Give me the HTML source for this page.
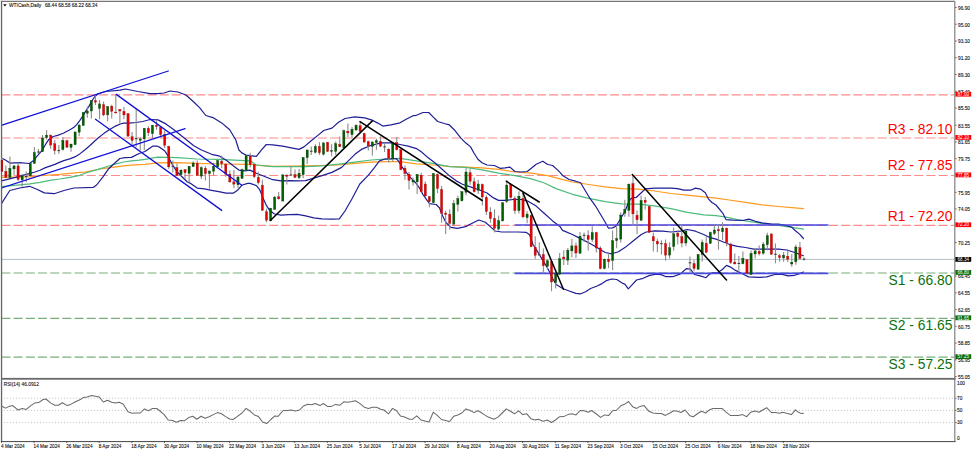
<!DOCTYPE html><html><head><meta charset="utf-8"><style>html,body{margin:0;padding:0;background:#fff;width:975px;height:452px;overflow:hidden}svg{display:block}text{font-family:"Liberation Sans",sans-serif}</style></head><body>
<svg width="975" height="452" viewBox="0 0 975 452">
<rect x="0" y="0" width="975" height="452" fill="#fff"/>
<rect x="0" y="0" width="955" height="1" fill="#ebebeb"/>
<rect x="0" y="0" width="1" height="442" fill="#ebebeb"/>
<defs><clipPath id="cm"><rect x="1.5" y="2" width="953" height="376"/></clipPath><clipPath id="cr"><rect x="2" y="380" width="952.5" height="61"/></clipPath></defs>
<g clip-path="url(#cm)">
<line x1="1.5" y1="94.8" x2="954.5" y2="94.8" stroke="#ff8a8a" stroke-width="1.2" stroke-dasharray="9 3.17"/>
<line x1="1.5" y1="138.0" x2="954.5" y2="138.0" stroke="#ff8a8a" stroke-width="1.2" stroke-dasharray="9 3.17"/>
<line x1="1.5" y1="175.5" x2="954.5" y2="175.5" stroke="#ff8a8a" stroke-width="1.2" stroke-dasharray="9 3.17"/>
<line x1="1.5" y1="225.3" x2="954.5" y2="225.3" stroke="#ff8a8a" stroke-width="1.2" stroke-dasharray="9 3.17"/>
<line x1="1.5" y1="273.0" x2="954.5" y2="273.0" stroke="#78b078" stroke-width="1.2" stroke-dasharray="9 3.17"/>
<line x1="1.5" y1="318.4" x2="954.5" y2="318.4" stroke="#78b078" stroke-width="1.2" stroke-dasharray="9 3.17"/>
<line x1="1.5" y1="357.2" x2="954.5" y2="357.2" stroke="#78b078" stroke-width="1.2" stroke-dasharray="9 3.17"/>
<line x1="2" y1="259.4" x2="954.5" y2="259.4" stroke="#b4bec8" stroke-width="1"/>
<polyline points="0.0,177.5 1.5,177.4 30.0,176.8 40.0,175.6 49.9,175.0 59.9,174.3 69.8,173.3 79.8,172.3 85.0,172.1 92.7,170.5 100.5,169.0 108.2,167.8 116.0,166.9 123.7,165.9 131.4,165.1 139.2,164.6 145.0,164.3 157.5,162.9 177.2,162.6 196.9,163.4 218.8,164.0 250.0,164.4 256.4,165.2 272.8,166.3 289.2,166.1 305.6,165.8 322.0,165.5 338.5,165.0 354.9,163.3 371.3,162.2 387.7,161.7 400.0,161.7 416.4,163.8 432.8,165.0 449.2,166.3 465.6,167.1 482.0,167.8 498.5,169.4 514.9,172.0 531.3,173.2 547.7,175.6 560.0,178.9 572.4,182.0 588.8,184.5 605.2,186.9 621.6,188.6 638.0,189.1 654.5,191.0 670.9,193.5 687.3,195.1 703.7,196.8 716.0,198.1 729.2,200.0 745.6,202.4 762.0,204.9 778.5,206.5 794.9,207.8 803.4,208.6" fill="none" stroke="#ff9a1e" stroke-width="1.2" stroke-linejoin="round" stroke-linecap="round"/>
<polyline points="0.0,186.8 1.5,186.7 30.0,183.8 40.0,182.3 49.9,180.3 59.9,179.0 69.8,177.3 79.8,175.3 85.0,173.2 92.7,170.9 100.5,168.6 108.2,166.3 116.0,163.9 123.7,162.0 131.4,160.8 139.2,160.1 145.0,159.3 157.5,157.2 177.2,157.7 196.9,159.0 218.8,159.4 250.0,160.8 256.4,165.0 272.8,166.6 289.2,166.6 305.6,166.6 322.0,165.8 338.5,164.2 354.9,162.2 371.3,160.0 387.7,158.9 400.0,158.4 416.4,160.9 432.8,163.3 449.2,166.6 465.6,167.4 482.0,169.9 498.5,173.2 514.9,175.6 531.3,178.9 544.4,183.0 556.0,188.6 572.4,194.3 588.8,198.4 605.2,201.7 621.6,203.8 638.0,204.2 654.5,205.8 670.9,208.7 687.3,212.4 703.7,214.8 716.0,215.6 726.0,217.2 737.4,219.6 748.9,221.3 762.0,223.4 778.5,225.4 794.9,227.8 803.4,229.2" fill="none" stroke="#4cbb7c" stroke-width="1.2" stroke-linejoin="round" stroke-linecap="round"/>
<polyline points="0.0,157.5 5.4,160.0 10.0,163.1 19.4,162.7 29.4,163.5 32.5,161.2 34.8,160.0 36.0,157.4 41.7,150.9 46.0,143.7 48.9,139.4 53.2,136.5 57.6,135.4 63.3,133.2 66.0,131.8 70.0,129.8 74.0,127.3 76.9,124.3 79.9,120.3 82.9,115.9 85.9,110.9 88.9,106.4 91.9,100.9 94.9,96.5 97.8,94.0 101.8,92.5 106.0,91.5 120.0,90.2 125.5,89.0 137.8,91.5 150.0,93.6 158.0,93.6 164.0,93.0 170.0,91.0 177.9,92.0 185.9,95.0 193.8,102.0 199.8,107.9 205.8,115.5 213.7,117.9 221.7,122.9 229.7,129.8 235.7,139.8 238.9,150.0 241.8,152.9 246.1,155.0 250.0,155.7 256.4,156.4 261.3,150.2 266.3,144.5 272.8,144.8 282.7,146.1 292.5,148.1 299.1,149.4 304.0,146.9 310.6,141.2 318.8,134.6 323.7,130.5 331.9,128.1 338.5,122.3 345.0,118.5 354.9,116.9 364.7,117.9 371.3,119.8 377.8,123.1 382.8,126.1 391.0,124.8 400.0,122.8 406.6,119.0 413.1,115.7 416.4,115.3 423.0,112.5 428.7,112.5 432.8,116.6 437.7,121.5 444.3,123.5 449.2,124.8 454.2,129.7 460.7,137.9 465.6,142.8 470.6,146.9 473.8,152.7 477.9,159.2 482.0,162.8 487.0,165.0 494.4,165.5 500.1,168.3 505.0,167.8 510.0,167.1 514.9,171.5 521.4,172.0 527.2,171.5 531.3,168.3 536.2,164.2 542.8,161.2 547.7,164.5 552.6,165.5 557.5,169.9 560.0,172.4 562.6,175.4 569.1,179.5 575.7,181.2 580.6,182.8 585.5,191.0 590.5,199.2 595.4,205.8 600.3,214.0 605.2,222.2 608.5,228.2 612.6,227.9 615.9,226.3 620.0,219.7 624.9,211.5 628.2,203.3 630.5,199.0 633.1,197.6 636.4,197.3 641.3,192.7 645.4,188.9 654.5,188.1 670.9,188.1 677.4,188.6 684.0,190.2 690.6,190.2 695.5,188.1 700.4,189.1 705.3,192.7 708.6,199.2 711.9,202.5 716.0,205.0 722.7,213.1 726.0,219.6 732.5,220.1 742.4,220.5 748.9,219.1 755.5,221.3 762.0,222.9 771.9,224.1 778.5,224.1 785.0,225.4 791.6,227.0 794.9,230.3 799.8,234.4 803.4,238.5" fill="none" stroke="#1e1e96" stroke-width="1.2" stroke-linejoin="round" stroke-linecap="round"/>
<polyline points="0.0,181.3 1.5,180.9 15.5,177.4 30.0,173.3 35.0,172.0 40.0,170.3 44.9,167.9 49.9,166.1 54.9,164.4 59.9,162.1 63.8,160.6 69.8,158.9 74.8,156.9 79.8,153.9 84.7,150.0 90.0,145.5 92.6,143.0 98.1,138.0 103.7,133.6 109.2,129.7 114.8,126.4 120.3,124.0 123.6,123.1 129.2,123.1 136.0,122.5 142.8,121.5 150.0,119.5 158.0,119.9 165.9,123.9 173.9,129.8 183.9,137.8 193.8,145.8 201.5,150.0 211.6,154.3 218.8,155.8 226.0,160.0 233.2,165.8 238.9,170.1 244.7,170.9 250.0,170.1 256.4,173.2 264.6,176.5 272.8,179.7 281.0,180.9 289.2,180.6 297.4,180.9 305.6,180.6 313.8,178.1 322.0,175.6 331.9,172.4 341.7,167.4 348.3,160.9 354.9,154.3 361.4,149.4 371.3,145.3 381.1,142.8 391.0,142.8 400.0,144.5 408.2,146.1 416.4,148.6 421.3,151.8 427.9,157.6 434.5,162.5 441.0,168.3 449.2,175.6 455.8,180.6 462.4,184.2 468.9,186.4 478.8,189.7 487.0,193.0 493.5,197.9 498.5,200.4 505.0,200.4 513.2,199.5 521.4,199.5 528.0,201.2 536.2,206.1 544.4,213.5 552.6,220.9 560.0,226.6 562.6,230.4 572.4,234.5 580.6,238.6 588.8,242.7 597.0,247.6 605.2,252.5 611.8,253.8 618.4,251.7 624.9,247.6 633.1,241.0 641.3,234.5 646.3,232.0 654.5,230.9 662.7,231.2 670.9,232.0 680.7,231.2 687.3,229.5 695.5,231.2 703.7,234.5 710.2,237.7 716.0,239.1 721.0,241.0 729.2,244.3 737.4,246.4 745.6,247.5 753.8,249.2 762.0,249.2 770.3,249.2 778.5,249.2 786.7,250.0 794.9,252.5 803.4,255.7" fill="none" stroke="#1e1e96" stroke-width="1.2" stroke-linejoin="round" stroke-linecap="round"/>
<polyline points="0.0,206.0 9.8,190.5 19.7,188.0 29.5,186.3 36.9,189.2 44.3,192.9 54.2,193.7 64.0,190.5 73.8,188.0 93.5,187.3 96.6,185.0 102.8,177.1 108.2,169.3 112.1,165.5 119.8,158.5 125.2,157.7 131.4,157.4 139.2,153.5 145.0,151.5 152.6,146.2 157.5,146.2 160.0,147.4 164.9,151.1 167.4,154.8 172.3,164.6 177.2,172.0 187.1,181.8 190.0,183.1 197.2,188.1 204.4,188.8 211.6,190.3 218.8,191.7 226.0,193.2 233.2,193.2 237.5,190.3 241.8,185.3 247.6,183.4 250.0,183.4 256.4,185.6 259.7,189.7 263.0,197.9 266.3,205.3 269.5,210.2 274.5,214.0 281.0,215.1 289.2,214.6 297.4,214.3 305.6,215.9 313.8,217.9 322.0,218.9 331.9,219.2 339.3,218.9 345.0,211.0 351.6,199.5 359.8,184.0 368.0,175.6 374.6,167.4 379.5,160.9 384.4,159.2 391.0,159.0 395.9,158.5 398.6,161.2 401.2,165.8 405.2,171.1 410.5,177.7 415.8,183.0 419.8,188.4 423.0,194.6 429.5,203.6 436.1,204.5 439.4,207.7 442.7,216.0 445.9,222.5 450.9,227.4 457.4,228.3 465.6,226.6 472.2,223.3 478.8,220.0 485.3,222.2 490.3,226.6 495.2,231.0 501.7,232.0 511.6,232.0 518.1,232.0 526.4,232.4 529.6,234.8 532.9,244.2 538.0,252.4 543.0,260.6 547.9,268.8 552.8,278.7 556.1,284.4 562.7,288.5 569.2,291.0 575.8,293.4 580.7,293.8 585.6,291.8 590.6,288.5 597.1,286.0 602.0,283.6 607.0,280.3 611.9,279.0 616.8,279.5 621.7,282.8 625.0,284.4 628.3,288.8 633.2,283.6 636.5,280.0 643.1,278.3 649.6,275.4 656.2,274.1 661.1,274.6 666.0,276.7 672.6,276.7 680.0,274.1 686.3,268.7 690.4,269.2 694.5,274.5 701.0,276.1 706.0,277.7 709.2,274.5 712.5,272.8 717.4,272.8 722.4,269.5 726.5,265.4 730.6,267.1 735.5,270.4 740.4,272.8 745.3,275.3 748.6,276.9 758.5,277.4 766.7,276.9 774.9,274.5 781.4,274.1 788.0,275.8 794.6,275.3 799.5,273.6 803.6,272.0" fill="none" stroke="#1e1e96" stroke-width="1.2" stroke-linejoin="round" stroke-linecap="round"/>
<line x1="514.7" y1="225.0" x2="828.5" y2="225.0" stroke="#4a4ae2" stroke-width="1.7"/>
<line x1="514.7" y1="273.3" x2="828.5" y2="273.3" stroke="#4a4ae2" stroke-width="1.7"/>
<line x1="1.80" y1="158.0" x2="1.80" y2="172.0" stroke="#8c8c8c" stroke-width="1.1"/>
<rect x="0.70" y="160.4" width="2.2" height="11.0" fill="#e80000" stroke="#900000" stroke-width="0.3"/>
<line x1="5.87" y1="165.4" x2="5.87" y2="177.9" stroke="#8c8c8c" stroke-width="1.1"/>
<rect x="4.77" y="171.4" width="2.2" height="6.0" fill="#e80000" stroke="#900000" stroke-width="0.3"/>
<line x1="9.94" y1="156.5" x2="9.94" y2="177.9" stroke="#8c8c8c" stroke-width="1.1"/>
<rect x="8.84" y="168.4" width="2.2" height="9.0" fill="#006000" stroke="#003000" stroke-width="0.3"/>
<line x1="14.02" y1="164.9" x2="14.02" y2="174.9" stroke="#8c8c8c" stroke-width="1.1"/>
<rect x="12.92" y="165.9" width="2.2" height="3.0" fill="#006000" stroke="#003000" stroke-width="0.3"/>
<line x1="18.09" y1="162.0" x2="18.09" y2="180.9" stroke="#8c8c8c" stroke-width="1.1"/>
<rect x="16.99" y="165.9" width="2.2" height="13.5" fill="#e80000" stroke="#900000" stroke-width="0.3"/>
<line x1="22.16" y1="173.9" x2="22.16" y2="186.8" stroke="#8c8c8c" stroke-width="1.1"/>
<rect x="21.06" y="175.9" width="2.2" height="4.0" fill="#006000" stroke="#003000" stroke-width="0.3"/>
<line x1="26.23" y1="171.4" x2="26.23" y2="181.9" stroke="#8c8c8c" stroke-width="1.1"/>
<rect x="24.93" y="176.0" width="2.6" height="1" fill="#333"/>
<line x1="30.30" y1="163.4" x2="30.30" y2="176.4" stroke="#8c8c8c" stroke-width="1.1"/>
<rect x="29.20" y="163.4" width="2.2" height="12.5" fill="#006000" stroke="#003000" stroke-width="0.3"/>
<line x1="34.38" y1="147.0" x2="34.38" y2="164.0" stroke="#8c8c8c" stroke-width="1.1"/>
<rect x="33.28" y="152.5" width="2.2" height="10.9" fill="#006000" stroke="#003000" stroke-width="0.3"/>
<line x1="38.45" y1="149.0" x2="38.45" y2="154.0" stroke="#8c8c8c" stroke-width="1.1"/>
<rect x="37.15" y="151.5" width="2.6" height="1" fill="#333"/>
<line x1="42.52" y1="135.0" x2="42.52" y2="151.9" stroke="#8c8c8c" stroke-width="1.1"/>
<rect x="41.42" y="138.0" width="2.2" height="13.6" fill="#006000" stroke="#003000" stroke-width="0.3"/>
<line x1="46.59" y1="130.0" x2="46.59" y2="139.4" stroke="#8c8c8c" stroke-width="1.1"/>
<rect x="45.49" y="135.1" width="2.2" height="2.6" fill="#006000" stroke="#003000" stroke-width="0.3"/>
<line x1="50.66" y1="134.4" x2="50.66" y2="148.7" stroke="#8c8c8c" stroke-width="1.1"/>
<rect x="49.56" y="135.1" width="2.2" height="10.0" fill="#e80000" stroke="#900000" stroke-width="0.3"/>
<line x1="54.74" y1="140.1" x2="54.74" y2="154.5" stroke="#8c8c8c" stroke-width="1.1"/>
<rect x="53.64" y="143.7" width="2.2" height="6.9" fill="#e80000" stroke="#900000" stroke-width="0.3"/>
<line x1="58.81" y1="145.1" x2="58.81" y2="153.8" stroke="#8c8c8c" stroke-width="1.1"/>
<rect x="57.51" y="150.1" width="2.6" height="1" fill="#333"/>
<line x1="62.88" y1="136.9" x2="62.88" y2="150.6" stroke="#8c8c8c" stroke-width="1.1"/>
<rect x="61.78" y="140.4" width="2.2" height="9.1" fill="#006000" stroke="#003000" stroke-width="0.3"/>
<line x1="66.95" y1="139.7" x2="66.95" y2="148.0" stroke="#8c8c8c" stroke-width="1.1"/>
<rect x="65.85" y="140.7" width="2.2" height="6.5" fill="#e80000" stroke="#900000" stroke-width="0.3"/>
<line x1="71.02" y1="144.0" x2="71.02" y2="151.7" stroke="#8c8c8c" stroke-width="1.1"/>
<rect x="69.92" y="144.0" width="2.2" height="3.5" fill="#006000" stroke="#003000" stroke-width="0.3"/>
<line x1="75.10" y1="131.9" x2="75.10" y2="144.7" stroke="#8c8c8c" stroke-width="1.1"/>
<rect x="74.00" y="131.9" width="2.2" height="12.8" fill="#006000" stroke="#003000" stroke-width="0.3"/>
<line x1="79.17" y1="124.1" x2="79.17" y2="136.2" stroke="#8c8c8c" stroke-width="1.1"/>
<rect x="78.07" y="125.1" width="2.2" height="7.1" fill="#006000" stroke="#003000" stroke-width="0.3"/>
<line x1="83.24" y1="112.4" x2="83.24" y2="126.0" stroke="#8c8c8c" stroke-width="1.1"/>
<rect x="82.14" y="112.4" width="2.2" height="13.1" fill="#006000" stroke="#003000" stroke-width="0.3"/>
<line x1="87.31" y1="106.4" x2="87.31" y2="117.7" stroke="#8c8c8c" stroke-width="1.1"/>
<rect x="86.21" y="111.0" width="2.2" height="2.2" fill="#006000" stroke="#003000" stroke-width="0.3"/>
<line x1="91.38" y1="100.0" x2="91.38" y2="118.5" stroke="#8c8c8c" stroke-width="1.1"/>
<rect x="90.28" y="100.5" width="2.2" height="10.5" fill="#006000" stroke="#003000" stroke-width="0.3"/>
<line x1="95.46" y1="94.4" x2="95.46" y2="105.0" stroke="#8c8c8c" stroke-width="1.1"/>
<rect x="94.36" y="100.7" width="2.2" height="1.5" fill="#e80000" stroke="#900000" stroke-width="0.3"/>
<line x1="99.53" y1="100.0" x2="99.53" y2="119.2" stroke="#8c8c8c" stroke-width="1.1"/>
<rect x="98.43" y="103.9" width="2.2" height="4.6" fill="#006000" stroke="#003000" stroke-width="0.3"/>
<line x1="103.60" y1="101.5" x2="103.60" y2="116.3" stroke="#8c8c8c" stroke-width="1.1"/>
<rect x="102.50" y="104.7" width="2.2" height="10.2" fill="#e80000" stroke="#900000" stroke-width="0.3"/>
<line x1="107.67" y1="106.4" x2="107.67" y2="121.3" stroke="#8c8c8c" stroke-width="1.1"/>
<rect x="106.57" y="106.4" width="2.2" height="8.5" fill="#006000" stroke="#003000" stroke-width="0.3"/>
<line x1="111.74" y1="104.7" x2="111.74" y2="118.5" stroke="#8c8c8c" stroke-width="1.1"/>
<rect x="110.64" y="106.1" width="2.2" height="5.3" fill="#e80000" stroke="#900000" stroke-width="0.3"/>
<line x1="115.82" y1="94.4" x2="115.82" y2="113.5" stroke="#8c8c8c" stroke-width="1.1"/>
<rect x="114.72" y="112.1" width="2.2" height="0.8" fill="#e80000" stroke="#900000" stroke-width="0.3"/>
<line x1="119.89" y1="109.2" x2="119.89" y2="123.4" stroke="#8c8c8c" stroke-width="1.1"/>
<rect x="118.79" y="109.5" width="2.2" height="1.5" fill="#e80000" stroke="#900000" stroke-width="0.3"/>
<line x1="123.96" y1="107.1" x2="123.96" y2="119.1" stroke="#8c8c8c" stroke-width="1.1"/>
<rect x="122.86" y="111.3" width="2.2" height="3.6" fill="#e80000" stroke="#900000" stroke-width="0.3"/>
<line x1="128.03" y1="113.5" x2="128.03" y2="136.8" stroke="#8c8c8c" stroke-width="1.1"/>
<rect x="126.93" y="113.5" width="2.2" height="22.6" fill="#e80000" stroke="#900000" stroke-width="0.3"/>
<line x1="132.10" y1="131.9" x2="132.10" y2="145.3" stroke="#8c8c8c" stroke-width="1.1"/>
<rect x="131.00" y="136.8" width="2.2" height="3.6" fill="#e80000" stroke="#900000" stroke-width="0.3"/>
<line x1="136.18" y1="109.2" x2="136.18" y2="146.7" stroke="#8c8c8c" stroke-width="1.1"/>
<rect x="134.88" y="138.2" width="2.6" height="1" fill="#333"/>
<line x1="140.25" y1="137.5" x2="140.25" y2="150.3" stroke="#8c8c8c" stroke-width="1.1"/>
<rect x="139.15" y="138.9" width="2.2" height="1.5" fill="#006000" stroke="#003000" stroke-width="0.3"/>
<line x1="144.32" y1="128.3" x2="144.32" y2="150.3" stroke="#8c8c8c" stroke-width="1.1"/>
<rect x="143.22" y="128.3" width="2.2" height="10.6" fill="#006000" stroke="#003000" stroke-width="0.3"/>
<line x1="148.39" y1="126.2" x2="148.39" y2="136.1" stroke="#8c8c8c" stroke-width="1.1"/>
<rect x="147.29" y="128.3" width="2.2" height="4.5" fill="#e80000" stroke="#900000" stroke-width="0.3"/>
<line x1="152.46" y1="125.2" x2="152.46" y2="138.2" stroke="#8c8c8c" stroke-width="1.1"/>
<rect x="151.36" y="125.2" width="2.2" height="8.5" fill="#006000" stroke="#003000" stroke-width="0.3"/>
<line x1="156.54" y1="120.5" x2="156.54" y2="129.7" stroke="#8c8c8c" stroke-width="1.1"/>
<rect x="155.44" y="125.2" width="2.2" height="1.4" fill="#e80000" stroke="#900000" stroke-width="0.3"/>
<line x1="160.61" y1="126.2" x2="160.61" y2="137.5" stroke="#8c8c8c" stroke-width="1.1"/>
<rect x="159.51" y="127.6" width="2.2" height="7.1" fill="#e80000" stroke="#900000" stroke-width="0.3"/>
<line x1="164.68" y1="130.4" x2="164.68" y2="148.1" stroke="#8c8c8c" stroke-width="1.1"/>
<rect x="163.58" y="134.7" width="2.2" height="10.6" fill="#e80000" stroke="#900000" stroke-width="0.3"/>
<line x1="168.75" y1="145.7" x2="168.75" y2="169.0" stroke="#8c8c8c" stroke-width="1.1"/>
<rect x="167.65" y="146.4" width="2.2" height="20.5" fill="#e80000" stroke="#900000" stroke-width="0.3"/>
<line x1="172.82" y1="160.5" x2="172.82" y2="172.6" stroke="#8c8c8c" stroke-width="1.1"/>
<rect x="171.52" y="165.7" width="2.6" height="1" fill="#333"/>
<line x1="176.90" y1="163.4" x2="176.90" y2="176.1" stroke="#8c8c8c" stroke-width="1.1"/>
<rect x="175.80" y="167.6" width="2.2" height="7.8" fill="#e80000" stroke="#900000" stroke-width="0.3"/>
<line x1="180.97" y1="169.7" x2="180.97" y2="176.1" stroke="#8c8c8c" stroke-width="1.1"/>
<rect x="179.87" y="170.0" width="2.2" height="4.7" fill="#006000" stroke="#003000" stroke-width="0.3"/>
<line x1="185.04" y1="169.0" x2="185.04" y2="179.0" stroke="#8c8c8c" stroke-width="1.1"/>
<rect x="183.94" y="169.7" width="2.2" height="3.1" fill="#e80000" stroke="#900000" stroke-width="0.3"/>
<line x1="189.11" y1="166.2" x2="189.11" y2="182.5" stroke="#8c8c8c" stroke-width="1.1"/>
<rect x="188.01" y="166.2" width="2.2" height="7.1" fill="#006000" stroke="#003000" stroke-width="0.3"/>
<line x1="193.18" y1="161.2" x2="193.18" y2="166.9" stroke="#8c8c8c" stroke-width="1.1"/>
<rect x="192.08" y="163.0" width="2.2" height="3.6" fill="#006000" stroke="#003000" stroke-width="0.3"/>
<line x1="197.26" y1="160.5" x2="197.26" y2="175.7" stroke="#8c8c8c" stroke-width="1.1"/>
<rect x="196.16" y="163.4" width="2.2" height="12.0" fill="#e80000" stroke="#900000" stroke-width="0.3"/>
<line x1="201.33" y1="166.2" x2="201.33" y2="179.0" stroke="#8c8c8c" stroke-width="1.1"/>
<rect x="200.23" y="167.6" width="2.2" height="8.5" fill="#006000" stroke="#003000" stroke-width="0.3"/>
<line x1="205.40" y1="166.2" x2="205.40" y2="180.4" stroke="#8c8c8c" stroke-width="1.1"/>
<rect x="204.30" y="168.3" width="2.2" height="5.4" fill="#e80000" stroke="#900000" stroke-width="0.3"/>
<line x1="209.47" y1="170.9" x2="209.47" y2="188.8" stroke="#8c8c8c" stroke-width="1.1"/>
<rect x="208.37" y="170.9" width="2.2" height="2.8" fill="#006000" stroke="#003000" stroke-width="0.3"/>
<line x1="213.54" y1="162.7" x2="213.54" y2="175.4" stroke="#8c8c8c" stroke-width="1.1"/>
<rect x="212.44" y="166.2" width="2.2" height="5.0" fill="#006000" stroke="#003000" stroke-width="0.3"/>
<line x1="217.62" y1="159.8" x2="217.62" y2="167.6" stroke="#8c8c8c" stroke-width="1.1"/>
<rect x="216.52" y="160.5" width="2.2" height="6.4" fill="#006000" stroke="#003000" stroke-width="0.3"/>
<line x1="221.69" y1="155.6" x2="221.69" y2="168.3" stroke="#8c8c8c" stroke-width="1.1"/>
<rect x="220.59" y="161.2" width="2.2" height="2.6" fill="#e80000" stroke="#900000" stroke-width="0.3"/>
<line x1="225.76" y1="163.4" x2="225.76" y2="176.8" stroke="#8c8c8c" stroke-width="1.1"/>
<rect x="224.66" y="164.1" width="2.2" height="9.9" fill="#e80000" stroke="#900000" stroke-width="0.3"/>
<line x1="229.83" y1="170.6" x2="229.83" y2="182.7" stroke="#8c8c8c" stroke-width="1.1"/>
<rect x="228.73" y="174.2" width="2.2" height="7.7" fill="#e80000" stroke="#900000" stroke-width="0.3"/>
<line x1="233.90" y1="169.9" x2="233.90" y2="188.3" stroke="#8c8c8c" stroke-width="1.1"/>
<rect x="232.80" y="181.9" width="2.2" height="2.2" fill="#e80000" stroke="#900000" stroke-width="0.3"/>
<line x1="237.98" y1="176.3" x2="237.98" y2="188.3" stroke="#8c8c8c" stroke-width="1.1"/>
<rect x="236.88" y="177.0" width="2.2" height="7.8" fill="#006000" stroke="#003000" stroke-width="0.3"/>
<line x1="242.05" y1="168.5" x2="242.05" y2="179.1" stroke="#8c8c8c" stroke-width="1.1"/>
<rect x="240.95" y="169.6" width="2.2" height="8.8" fill="#006000" stroke="#003000" stroke-width="0.3"/>
<line x1="246.12" y1="154.8" x2="246.12" y2="171.1" stroke="#8c8c8c" stroke-width="1.1"/>
<rect x="245.02" y="155.5" width="2.2" height="14.9" fill="#006000" stroke="#003000" stroke-width="0.3"/>
<line x1="250.19" y1="152.7" x2="250.19" y2="167.5" stroke="#8c8c8c" stroke-width="1.1"/>
<rect x="249.09" y="156.2" width="2.2" height="8.5" fill="#e80000" stroke="#900000" stroke-width="0.3"/>
<line x1="254.26" y1="164.0" x2="254.26" y2="178.1" stroke="#8c8c8c" stroke-width="1.1"/>
<rect x="253.16" y="164.7" width="2.2" height="12.0" fill="#e80000" stroke="#900000" stroke-width="0.3"/>
<line x1="258.34" y1="171.8" x2="258.34" y2="184.5" stroke="#8c8c8c" stroke-width="1.1"/>
<rect x="257.24" y="177.4" width="2.2" height="5.3" fill="#e80000" stroke="#900000" stroke-width="0.3"/>
<line x1="262.41" y1="179.8" x2="262.41" y2="211.0" stroke="#8c8c8c" stroke-width="1.1"/>
<rect x="261.31" y="185.2" width="2.2" height="25.1" fill="#e80000" stroke="#900000" stroke-width="0.3"/>
<line x1="266.48" y1="208.8" x2="266.48" y2="222.3" stroke="#8c8c8c" stroke-width="1.1"/>
<rect x="265.38" y="211.7" width="2.2" height="8.5" fill="#e80000" stroke="#900000" stroke-width="0.3"/>
<line x1="270.55" y1="208.1" x2="270.55" y2="221.2" stroke="#8c8c8c" stroke-width="1.1"/>
<rect x="269.45" y="208.1" width="2.2" height="12.8" fill="#006000" stroke="#003000" stroke-width="0.3"/>
<line x1="274.62" y1="196.1" x2="274.62" y2="209.6" stroke="#8c8c8c" stroke-width="1.1"/>
<rect x="273.52" y="197.1" width="2.2" height="12.5" fill="#006000" stroke="#003000" stroke-width="0.3"/>
<line x1="278.70" y1="191.9" x2="278.70" y2="199.6" stroke="#8c8c8c" stroke-width="1.1"/>
<rect x="277.60" y="196.8" width="2.2" height="2.1" fill="#e80000" stroke="#900000" stroke-width="0.3"/>
<line x1="282.77" y1="174.2" x2="282.77" y2="201.1" stroke="#8c8c8c" stroke-width="1.1"/>
<rect x="281.67" y="174.9" width="2.2" height="26.2" fill="#006000" stroke="#003000" stroke-width="0.3"/>
<line x1="286.84" y1="173.9" x2="286.84" y2="184.5" stroke="#8c8c8c" stroke-width="1.1"/>
<rect x="285.74" y="175.3" width="2.2" height="1.0" fill="#e80000" stroke="#900000" stroke-width="0.3"/>
<line x1="290.91" y1="166.1" x2="290.91" y2="176.0" stroke="#8c8c8c" stroke-width="1.1"/>
<rect x="289.61" y="174.5" width="2.6" height="1" fill="#333"/>
<line x1="294.98" y1="169.6" x2="294.98" y2="178.1" stroke="#8c8c8c" stroke-width="1.1"/>
<rect x="293.88" y="174.6" width="2.2" height="2.8" fill="#e80000" stroke="#900000" stroke-width="0.3"/>
<line x1="299.06" y1="169.1" x2="299.06" y2="179.0" stroke="#8c8c8c" stroke-width="1.1"/>
<rect x="297.96" y="173.3" width="2.2" height="4.5" fill="#006000" stroke="#003000" stroke-width="0.3"/>
<line x1="303.13" y1="157.0" x2="303.13" y2="178.3" stroke="#8c8c8c" stroke-width="1.1"/>
<rect x="302.03" y="157.5" width="2.2" height="17.2" fill="#006000" stroke="#003000" stroke-width="0.3"/>
<line x1="307.20" y1="149.9" x2="307.20" y2="164.1" stroke="#8c8c8c" stroke-width="1.1"/>
<rect x="306.10" y="149.9" width="2.2" height="7.8" fill="#006000" stroke="#003000" stroke-width="0.3"/>
<line x1="311.27" y1="146.4" x2="311.27" y2="154.9" stroke="#8c8c8c" stroke-width="1.1"/>
<rect x="309.97" y="150.7" width="2.6" height="1" fill="#333"/>
<line x1="315.34" y1="144.3" x2="315.34" y2="153.5" stroke="#8c8c8c" stroke-width="1.1"/>
<rect x="314.24" y="146.4" width="2.2" height="6.0" fill="#006000" stroke="#003000" stroke-width="0.3"/>
<line x1="319.42" y1="142.2" x2="319.42" y2="154.9" stroke="#8c8c8c" stroke-width="1.1"/>
<rect x="318.32" y="146.4" width="2.2" height="6.4" fill="#e80000" stroke="#900000" stroke-width="0.3"/>
<line x1="323.49" y1="142.2" x2="323.49" y2="155.6" stroke="#8c8c8c" stroke-width="1.1"/>
<rect x="322.39" y="142.9" width="2.2" height="11.3" fill="#006000" stroke="#003000" stroke-width="0.3"/>
<line x1="327.56" y1="142.2" x2="327.56" y2="152.1" stroke="#8c8c8c" stroke-width="1.1"/>
<rect x="326.46" y="142.2" width="2.2" height="9.2" fill="#e80000" stroke="#900000" stroke-width="0.3"/>
<line x1="331.63" y1="144.3" x2="331.63" y2="156.3" stroke="#8c8c8c" stroke-width="1.1"/>
<rect x="330.53" y="150.4" width="2.2" height="1.0" fill="#006000" stroke="#003000" stroke-width="0.3"/>
<line x1="335.70" y1="141.5" x2="335.70" y2="154.9" stroke="#8c8c8c" stroke-width="1.1"/>
<rect x="334.60" y="143.6" width="2.2" height="7.8" fill="#006000" stroke="#003000" stroke-width="0.3"/>
<line x1="339.78" y1="136.5" x2="339.78" y2="147.1" stroke="#8c8c8c" stroke-width="1.1"/>
<rect x="338.68" y="144.3" width="2.2" height="2.4" fill="#e80000" stroke="#900000" stroke-width="0.3"/>
<line x1="343.85" y1="129.4" x2="343.85" y2="147.8" stroke="#8c8c8c" stroke-width="1.1"/>
<rect x="342.75" y="130.8" width="2.2" height="16.9" fill="#006000" stroke="#003000" stroke-width="0.3"/>
<line x1="347.92" y1="123.6" x2="347.92" y2="137.0" stroke="#8c8c8c" stroke-width="1.1"/>
<rect x="346.82" y="131.3" width="2.2" height="1.6" fill="#e80000" stroke="#900000" stroke-width="0.3"/>
<line x1="351.99" y1="127.1" x2="351.99" y2="138.4" stroke="#8c8c8c" stroke-width="1.1"/>
<rect x="350.89" y="129.2" width="2.2" height="5.5" fill="#006000" stroke="#003000" stroke-width="0.3"/>
<line x1="356.06" y1="124.3" x2="356.06" y2="130.7" stroke="#8c8c8c" stroke-width="1.1"/>
<rect x="354.96" y="125.3" width="2.2" height="4.7" fill="#006000" stroke="#003000" stroke-width="0.3"/>
<line x1="360.14" y1="121.5" x2="360.14" y2="132.1" stroke="#8c8c8c" stroke-width="1.1"/>
<rect x="359.04" y="125.7" width="2.2" height="5.7" fill="#e80000" stroke="#900000" stroke-width="0.3"/>
<line x1="364.21" y1="132.8" x2="364.21" y2="142.7" stroke="#8c8c8c" stroke-width="1.1"/>
<rect x="363.11" y="133.5" width="2.2" height="8.5" fill="#e80000" stroke="#900000" stroke-width="0.3"/>
<line x1="368.28" y1="140.6" x2="368.28" y2="150.5" stroke="#8c8c8c" stroke-width="1.1"/>
<rect x="367.18" y="141.7" width="2.2" height="4.2" fill="#e80000" stroke="#900000" stroke-width="0.3"/>
<line x1="372.35" y1="141.3" x2="372.35" y2="155.4" stroke="#8c8c8c" stroke-width="1.1"/>
<rect x="371.25" y="142.0" width="2.2" height="4.5" fill="#006000" stroke="#003000" stroke-width="0.3"/>
<line x1="376.42" y1="138.4" x2="376.42" y2="149.8" stroke="#8c8c8c" stroke-width="1.1"/>
<rect x="375.32" y="140.6" width="2.2" height="2.1" fill="#006000" stroke="#003000" stroke-width="0.3"/>
<line x1="380.50" y1="136.3" x2="380.50" y2="146.9" stroke="#8c8c8c" stroke-width="1.1"/>
<rect x="379.40" y="141.3" width="2.2" height="4.9" fill="#e80000" stroke="#900000" stroke-width="0.3"/>
<line x1="384.57" y1="144.1" x2="384.57" y2="151.9" stroke="#8c8c8c" stroke-width="1.1"/>
<rect x="383.27" y="146.4" width="2.6" height="1" fill="#333"/>
<line x1="388.64" y1="148.4" x2="388.64" y2="162.5" stroke="#8c8c8c" stroke-width="1.1"/>
<rect x="387.54" y="149.1" width="2.2" height="9.2" fill="#e80000" stroke="#900000" stroke-width="0.3"/>
<line x1="392.71" y1="142.0" x2="392.71" y2="161.8" stroke="#8c8c8c" stroke-width="1.1"/>
<rect x="391.61" y="142.7" width="2.2" height="16.3" fill="#006000" stroke="#003000" stroke-width="0.3"/>
<line x1="396.78" y1="137.0" x2="396.78" y2="150.5" stroke="#8c8c8c" stroke-width="1.1"/>
<rect x="395.68" y="142.7" width="2.2" height="7.1" fill="#e80000" stroke="#900000" stroke-width="0.3"/>
<line x1="400.86" y1="149.1" x2="400.86" y2="170.3" stroke="#8c8c8c" stroke-width="1.1"/>
<rect x="399.76" y="149.8" width="2.2" height="19.8" fill="#e80000" stroke="#900000" stroke-width="0.3"/>
<line x1="404.93" y1="165.6" x2="404.93" y2="179.7" stroke="#8c8c8c" stroke-width="1.1"/>
<rect x="403.83" y="168.4" width="2.2" height="5.0" fill="#e80000" stroke="#900000" stroke-width="0.3"/>
<line x1="409.00" y1="171.9" x2="409.00" y2="189.6" stroke="#8c8c8c" stroke-width="1.1"/>
<rect x="407.90" y="174.1" width="2.2" height="6.3" fill="#e80000" stroke="#900000" stroke-width="0.3"/>
<line x1="413.07" y1="177.6" x2="413.07" y2="185.4" stroke="#8c8c8c" stroke-width="1.1"/>
<rect x="411.97" y="180.2" width="2.2" height="1.8" fill="#006000" stroke="#003000" stroke-width="0.3"/>
<line x1="417.14" y1="174.1" x2="417.14" y2="193.9" stroke="#8c8c8c" stroke-width="1.1"/>
<rect x="416.04" y="174.4" width="2.2" height="7.5" fill="#006000" stroke="#003000" stroke-width="0.3"/>
<line x1="421.22" y1="172.7" x2="421.22" y2="192.5" stroke="#8c8c8c" stroke-width="1.1"/>
<rect x="420.12" y="175.2" width="2.2" height="16.6" fill="#e80000" stroke="#900000" stroke-width="0.3"/>
<line x1="425.29" y1="181.2" x2="425.29" y2="196.7" stroke="#8c8c8c" stroke-width="1.1"/>
<rect x="424.19" y="184.0" width="2.2" height="12.0" fill="#e80000" stroke="#900000" stroke-width="0.3"/>
<line x1="429.36" y1="196.0" x2="429.36" y2="207.3" stroke="#8c8c8c" stroke-width="1.1"/>
<rect x="428.26" y="196.7" width="2.2" height="5.0" fill="#e80000" stroke="#900000" stroke-width="0.3"/>
<line x1="433.43" y1="173.4" x2="433.43" y2="203.1" stroke="#8c8c8c" stroke-width="1.1"/>
<rect x="432.33" y="173.4" width="2.2" height="29.3" fill="#006000" stroke="#003000" stroke-width="0.3"/>
<line x1="437.50" y1="173.4" x2="437.50" y2="193.2" stroke="#8c8c8c" stroke-width="1.1"/>
<rect x="436.40" y="174.4" width="2.2" height="14.1" fill="#e80000" stroke="#900000" stroke-width="0.3"/>
<line x1="441.58" y1="185.9" x2="441.58" y2="222.7" stroke="#8c8c8c" stroke-width="1.1"/>
<rect x="440.48" y="189.5" width="2.2" height="24.0" fill="#e80000" stroke="#900000" stroke-width="0.3"/>
<line x1="445.65" y1="210.7" x2="445.65" y2="234.1" stroke="#8c8c8c" stroke-width="1.1"/>
<rect x="444.55" y="213.1" width="2.2" height="1.4" fill="#e80000" stroke="#900000" stroke-width="0.3"/>
<line x1="449.72" y1="209.3" x2="449.72" y2="229.8" stroke="#8c8c8c" stroke-width="1.1"/>
<rect x="448.62" y="214.2" width="2.2" height="9.2" fill="#e80000" stroke="#900000" stroke-width="0.3"/>
<line x1="453.79" y1="200.1" x2="453.79" y2="226.3" stroke="#8c8c8c" stroke-width="1.1"/>
<rect x="452.69" y="203.6" width="2.2" height="20.5" fill="#006000" stroke="#003000" stroke-width="0.3"/>
<line x1="457.86" y1="195.8" x2="457.86" y2="211.4" stroke="#8c8c8c" stroke-width="1.1"/>
<rect x="456.76" y="198.7" width="2.2" height="5.6" fill="#006000" stroke="#003000" stroke-width="0.3"/>
<line x1="461.94" y1="191.6" x2="461.94" y2="201.5" stroke="#8c8c8c" stroke-width="1.1"/>
<rect x="460.84" y="191.6" width="2.2" height="9.2" fill="#006000" stroke="#003000" stroke-width="0.3"/>
<line x1="466.01" y1="167.7" x2="466.01" y2="195.3" stroke="#8c8c8c" stroke-width="1.1"/>
<rect x="464.91" y="172.0" width="2.2" height="20.3" fill="#006000" stroke="#003000" stroke-width="0.3"/>
<line x1="470.08" y1="169.1" x2="470.08" y2="184.7" stroke="#8c8c8c" stroke-width="1.1"/>
<rect x="468.98" y="172.7" width="2.2" height="8.5" fill="#e80000" stroke="#900000" stroke-width="0.3"/>
<line x1="474.15" y1="177.6" x2="474.15" y2="192.5" stroke="#8c8c8c" stroke-width="1.1"/>
<rect x="473.05" y="181.8" width="2.2" height="9.9" fill="#e80000" stroke="#900000" stroke-width="0.3"/>
<line x1="478.22" y1="179.7" x2="478.22" y2="194.0" stroke="#8c8c8c" stroke-width="1.1"/>
<rect x="477.12" y="184.0" width="2.2" height="6.3" fill="#006000" stroke="#003000" stroke-width="0.3"/>
<line x1="482.30" y1="183.5" x2="482.30" y2="205.5" stroke="#8c8c8c" stroke-width="1.1"/>
<rect x="481.20" y="184.4" width="2.2" height="12.6" fill="#e80000" stroke="#900000" stroke-width="0.3"/>
<line x1="486.37" y1="195.2" x2="486.37" y2="214.9" stroke="#8c8c8c" stroke-width="1.1"/>
<rect x="485.27" y="197.3" width="2.2" height="14.2" fill="#e80000" stroke="#900000" stroke-width="0.3"/>
<line x1="490.44" y1="207.2" x2="490.44" y2="222.7" stroke="#8c8c8c" stroke-width="1.1"/>
<rect x="489.34" y="212.1" width="2.2" height="6.4" fill="#e80000" stroke="#900000" stroke-width="0.3"/>
<line x1="494.51" y1="209.3" x2="494.51" y2="232.6" stroke="#8c8c8c" stroke-width="1.1"/>
<rect x="493.41" y="218.5" width="2.2" height="9.9" fill="#e80000" stroke="#900000" stroke-width="0.3"/>
<line x1="498.58" y1="215.6" x2="498.58" y2="230.5" stroke="#8c8c8c" stroke-width="1.1"/>
<rect x="497.48" y="220.6" width="2.2" height="8.5" fill="#006000" stroke="#003000" stroke-width="0.3"/>
<line x1="502.66" y1="202.5" x2="502.66" y2="221.4" stroke="#8c8c8c" stroke-width="1.1"/>
<rect x="501.56" y="202.7" width="2.2" height="18.2" fill="#006000" stroke="#003000" stroke-width="0.3"/>
<line x1="506.73" y1="180.4" x2="506.73" y2="203.0" stroke="#8c8c8c" stroke-width="1.1"/>
<rect x="505.63" y="185.1" width="2.2" height="16.4" fill="#006000" stroke="#003000" stroke-width="0.3"/>
<line x1="510.80" y1="184.0" x2="510.80" y2="198.8" stroke="#8c8c8c" stroke-width="1.1"/>
<rect x="509.70" y="184.7" width="2.2" height="12.7" fill="#e80000" stroke="#900000" stroke-width="0.3"/>
<line x1="514.87" y1="196.2" x2="514.87" y2="214.1" stroke="#8c8c8c" stroke-width="1.1"/>
<rect x="513.77" y="198.3" width="2.2" height="12.2" fill="#e80000" stroke="#900000" stroke-width="0.3"/>
<line x1="518.94" y1="191.3" x2="518.94" y2="213.4" stroke="#8c8c8c" stroke-width="1.1"/>
<rect x="517.84" y="196.2" width="2.2" height="14.4" fill="#006000" stroke="#003000" stroke-width="0.3"/>
<line x1="523.02" y1="192.1" x2="523.02" y2="218.3" stroke="#8c8c8c" stroke-width="1.1"/>
<rect x="521.92" y="198.5" width="2.2" height="18.4" fill="#e80000" stroke="#900000" stroke-width="0.3"/>
<line x1="527.09" y1="211.2" x2="527.09" y2="223.3" stroke="#8c8c8c" stroke-width="1.1"/>
<rect x="525.99" y="214.1" width="2.2" height="3.5" fill="#006000" stroke="#003000" stroke-width="0.3"/>
<line x1="531.16" y1="214.8" x2="531.16" y2="247.3" stroke="#8c8c8c" stroke-width="1.1"/>
<rect x="530.06" y="215.5" width="2.2" height="31.3" fill="#e80000" stroke="#900000" stroke-width="0.3"/>
<line x1="535.23" y1="236.3" x2="535.23" y2="258.7" stroke="#8c8c8c" stroke-width="1.1"/>
<rect x="534.13" y="247.2" width="2.2" height="8.1" fill="#e80000" stroke="#900000" stroke-width="0.3"/>
<line x1="539.30" y1="242.3" x2="539.30" y2="255.8" stroke="#8c8c8c" stroke-width="1.1"/>
<rect x="538.00" y="254.4" width="2.6" height="1" fill="#333"/>
<line x1="543.38" y1="248.5" x2="543.38" y2="273.5" stroke="#8c8c8c" stroke-width="1.1"/>
<rect x="542.28" y="254.5" width="2.2" height="11.2" fill="#e80000" stroke="#900000" stroke-width="0.3"/>
<line x1="547.45" y1="259.4" x2="547.45" y2="270.0" stroke="#8c8c8c" stroke-width="1.1"/>
<rect x="546.35" y="260.8" width="2.2" height="5.6" fill="#006000" stroke="#003000" stroke-width="0.3"/>
<line x1="551.52" y1="260.8" x2="551.52" y2="291.2" stroke="#8c8c8c" stroke-width="1.1"/>
<rect x="550.42" y="261.5" width="2.2" height="20.5" fill="#e80000" stroke="#900000" stroke-width="0.3"/>
<line x1="555.59" y1="272.1" x2="555.59" y2="288.4" stroke="#8c8c8c" stroke-width="1.1"/>
<rect x="554.49" y="273.5" width="2.2" height="9.2" fill="#006000" stroke="#003000" stroke-width="0.3"/>
<line x1="559.66" y1="253.0" x2="559.66" y2="274.9" stroke="#8c8c8c" stroke-width="1.1"/>
<rect x="558.56" y="258.7" width="2.2" height="15.5" fill="#006000" stroke="#003000" stroke-width="0.3"/>
<line x1="563.74" y1="250.2" x2="563.74" y2="265.0" stroke="#8c8c8c" stroke-width="1.1"/>
<rect x="562.64" y="257.0" width="2.2" height="1.9" fill="#e80000" stroke="#900000" stroke-width="0.3"/>
<line x1="567.81" y1="248.0" x2="567.81" y2="265.0" stroke="#8c8c8c" stroke-width="1.1"/>
<rect x="566.71" y="250.2" width="2.2" height="9.9" fill="#006000" stroke="#003000" stroke-width="0.3"/>
<line x1="571.88" y1="238.8" x2="571.88" y2="257.2" stroke="#8c8c8c" stroke-width="1.1"/>
<rect x="570.78" y="245.9" width="2.2" height="5.0" fill="#006000" stroke="#003000" stroke-width="0.3"/>
<line x1="575.95" y1="242.4" x2="575.95" y2="257.9" stroke="#8c8c8c" stroke-width="1.1"/>
<rect x="574.85" y="245.9" width="2.2" height="7.1" fill="#e80000" stroke="#900000" stroke-width="0.3"/>
<line x1="580.02" y1="232.0" x2="580.02" y2="253.9" stroke="#8c8c8c" stroke-width="1.1"/>
<rect x="578.92" y="236.2" width="2.2" height="17.0" fill="#006000" stroke="#003000" stroke-width="0.3"/>
<line x1="584.10" y1="232.6" x2="584.10" y2="242.0" stroke="#8c8c8c" stroke-width="1.1"/>
<rect x="582.80" y="234.8" width="2.6" height="1" fill="#333"/>
<line x1="588.17" y1="230.3" x2="588.17" y2="250.5" stroke="#8c8c8c" stroke-width="1.1"/>
<rect x="587.07" y="235.3" width="2.2" height="4.2" fill="#e80000" stroke="#900000" stroke-width="0.3"/>
<line x1="592.24" y1="226.3" x2="592.24" y2="242.0" stroke="#8c8c8c" stroke-width="1.1"/>
<rect x="591.14" y="232.6" width="2.2" height="7.0" fill="#006000" stroke="#003000" stroke-width="0.3"/>
<line x1="596.31" y1="231.8" x2="596.31" y2="252.6" stroke="#8c8c8c" stroke-width="1.1"/>
<rect x="595.21" y="232.6" width="2.2" height="15.4" fill="#e80000" stroke="#900000" stroke-width="0.3"/>
<line x1="600.38" y1="246.3" x2="600.38" y2="269.3" stroke="#8c8c8c" stroke-width="1.1"/>
<rect x="599.28" y="248.0" width="2.2" height="20.7" fill="#e80000" stroke="#900000" stroke-width="0.3"/>
<line x1="604.46" y1="258.6" x2="604.46" y2="269.3" stroke="#8c8c8c" stroke-width="1.1"/>
<rect x="603.36" y="259.2" width="2.2" height="9.5" fill="#006000" stroke="#003000" stroke-width="0.3"/>
<line x1="608.53" y1="252.8" x2="608.53" y2="268.2" stroke="#8c8c8c" stroke-width="1.1"/>
<rect x="607.43" y="259.2" width="2.2" height="2.6" fill="#e80000" stroke="#900000" stroke-width="0.3"/>
<line x1="612.60" y1="230.5" x2="612.60" y2="270.0" stroke="#8c8c8c" stroke-width="1.1"/>
<rect x="611.50" y="240.6" width="2.2" height="20.0" fill="#006000" stroke="#003000" stroke-width="0.3"/>
<line x1="616.67" y1="226.5" x2="616.67" y2="248.2" stroke="#8c8c8c" stroke-width="1.1"/>
<rect x="615.57" y="238.5" width="2.2" height="2.1" fill="#006000" stroke="#003000" stroke-width="0.3"/>
<line x1="620.74" y1="212.2" x2="620.74" y2="242.4" stroke="#8c8c8c" stroke-width="1.1"/>
<rect x="619.64" y="215.0" width="2.2" height="24.1" fill="#006000" stroke="#003000" stroke-width="0.3"/>
<line x1="624.82" y1="199.7" x2="624.82" y2="216.7" stroke="#8c8c8c" stroke-width="1.1"/>
<rect x="623.72" y="209.4" width="2.2" height="3.8" fill="#006000" stroke="#003000" stroke-width="0.3"/>
<line x1="628.89" y1="183.5" x2="628.89" y2="216.7" stroke="#8c8c8c" stroke-width="1.1"/>
<rect x="627.79" y="184.2" width="2.2" height="26.2" fill="#006000" stroke="#003000" stroke-width="0.3"/>
<line x1="632.96" y1="175.0" x2="632.96" y2="224.5" stroke="#8c8c8c" stroke-width="1.1"/>
<rect x="631.86" y="183.5" width="2.2" height="30.4" fill="#e80000" stroke="#900000" stroke-width="0.3"/>
<line x1="637.03" y1="210.4" x2="637.03" y2="234.0" stroke="#8c8c8c" stroke-width="1.1"/>
<rect x="635.93" y="215.3" width="2.2" height="4.5" fill="#e80000" stroke="#900000" stroke-width="0.3"/>
<line x1="641.10" y1="195.5" x2="641.10" y2="221.0" stroke="#8c8c8c" stroke-width="1.1"/>
<rect x="640.00" y="200.4" width="2.2" height="19.9" fill="#006000" stroke="#003000" stroke-width="0.3"/>
<line x1="645.18" y1="196.9" x2="645.18" y2="209.6" stroke="#8c8c8c" stroke-width="1.1"/>
<rect x="644.08" y="200.2" width="2.2" height="2.1" fill="#e80000" stroke="#900000" stroke-width="0.3"/>
<line x1="649.25" y1="206.1" x2="649.25" y2="233.0" stroke="#8c8c8c" stroke-width="1.1"/>
<rect x="648.15" y="206.5" width="2.2" height="25.8" fill="#e80000" stroke="#900000" stroke-width="0.3"/>
<line x1="653.32" y1="232.4" x2="653.32" y2="251.5" stroke="#8c8c8c" stroke-width="1.1"/>
<rect x="652.22" y="236.7" width="2.2" height="4.2" fill="#e80000" stroke="#900000" stroke-width="0.3"/>
<line x1="657.39" y1="238.8" x2="657.39" y2="252.2" stroke="#8c8c8c" stroke-width="1.1"/>
<rect x="656.29" y="241.2" width="2.2" height="2.8" fill="#e80000" stroke="#900000" stroke-width="0.3"/>
<line x1="661.46" y1="240.2" x2="661.46" y2="254.4" stroke="#8c8c8c" stroke-width="1.1"/>
<rect x="660.16" y="243.2" width="2.6" height="1" fill="#333"/>
<line x1="665.54" y1="239.5" x2="665.54" y2="260.7" stroke="#8c8c8c" stroke-width="1.1"/>
<rect x="664.44" y="243.5" width="2.2" height="11.6" fill="#e80000" stroke="#900000" stroke-width="0.3"/>
<line x1="669.61" y1="242.3" x2="669.61" y2="258.6" stroke="#8c8c8c" stroke-width="1.1"/>
<rect x="668.51" y="247.7" width="2.2" height="7.4" fill="#006000" stroke="#003000" stroke-width="0.3"/>
<line x1="673.68" y1="227.5" x2="673.68" y2="250.8" stroke="#8c8c8c" stroke-width="1.1"/>
<rect x="672.58" y="233.8" width="2.2" height="12.8" fill="#006000" stroke="#003000" stroke-width="0.3"/>
<line x1="677.75" y1="230.3" x2="677.75" y2="244.4" stroke="#8c8c8c" stroke-width="1.1"/>
<rect x="676.65" y="233.1" width="2.2" height="3.3" fill="#e80000" stroke="#900000" stroke-width="0.3"/>
<line x1="681.82" y1="224.6" x2="681.82" y2="247.3" stroke="#8c8c8c" stroke-width="1.1"/>
<rect x="680.72" y="236.7" width="2.2" height="6.3" fill="#e80000" stroke="#900000" stroke-width="0.3"/>
<line x1="685.90" y1="230.3" x2="685.90" y2="245.9" stroke="#8c8c8c" stroke-width="1.1"/>
<rect x="684.80" y="231.0" width="2.2" height="12.0" fill="#006000" stroke="#003000" stroke-width="0.3"/>
<line x1="689.97" y1="256.5" x2="689.97" y2="272.0" stroke="#8c8c8c" stroke-width="1.1"/>
<rect x="688.67" y="262.3" width="2.6" height="1" fill="#333"/>
<line x1="694.04" y1="260.0" x2="694.04" y2="271.3" stroke="#8c8c8c" stroke-width="1.1"/>
<rect x="692.94" y="263.6" width="2.2" height="4.9" fill="#e80000" stroke="#900000" stroke-width="0.3"/>
<line x1="698.11" y1="254.4" x2="698.11" y2="270.0" stroke="#8c8c8c" stroke-width="1.1"/>
<rect x="697.01" y="254.4" width="2.2" height="14.8" fill="#006000" stroke="#003000" stroke-width="0.3"/>
<line x1="702.18" y1="239.5" x2="702.18" y2="261.4" stroke="#8c8c8c" stroke-width="1.1"/>
<rect x="701.08" y="242.3" width="2.2" height="12.1" fill="#006000" stroke="#003000" stroke-width="0.3"/>
<line x1="706.26" y1="237.0" x2="706.26" y2="253.3" stroke="#8c8c8c" stroke-width="1.1"/>
<rect x="705.16" y="243.2" width="2.2" height="9.0" fill="#e80000" stroke="#900000" stroke-width="0.3"/>
<line x1="710.33" y1="231.4" x2="710.33" y2="244.1" stroke="#8c8c8c" stroke-width="1.1"/>
<rect x="709.23" y="232.4" width="2.2" height="11.0" fill="#006000" stroke="#003000" stroke-width="0.3"/>
<line x1="714.40" y1="224.3" x2="714.40" y2="234.9" stroke="#8c8c8c" stroke-width="1.1"/>
<rect x="713.30" y="230.0" width="2.2" height="3.5" fill="#006000" stroke="#003000" stroke-width="0.3"/>
<line x1="718.47" y1="225.0" x2="718.47" y2="249.8" stroke="#8c8c8c" stroke-width="1.1"/>
<rect x="717.37" y="229.5" width="2.2" height="1.4" fill="#e80000" stroke="#900000" stroke-width="0.3"/>
<line x1="722.54" y1="222.2" x2="722.54" y2="239.9" stroke="#8c8c8c" stroke-width="1.1"/>
<rect x="721.44" y="228.1" width="2.2" height="3.7" fill="#006000" stroke="#003000" stroke-width="0.3"/>
<line x1="726.62" y1="227.8" x2="726.62" y2="246.2" stroke="#8c8c8c" stroke-width="1.1"/>
<rect x="725.52" y="228.1" width="2.2" height="14.6" fill="#e80000" stroke="#900000" stroke-width="0.3"/>
<line x1="730.69" y1="242.7" x2="730.69" y2="263.9" stroke="#8c8c8c" stroke-width="1.1"/>
<rect x="729.59" y="244.1" width="2.2" height="18.4" fill="#e80000" stroke="#900000" stroke-width="0.3"/>
<line x1="734.76" y1="253.6" x2="734.76" y2="264.6" stroke="#8c8c8c" stroke-width="1.1"/>
<rect x="733.66" y="262.1" width="2.2" height="1.8" fill="#e80000" stroke="#900000" stroke-width="0.3"/>
<line x1="738.83" y1="256.1" x2="738.83" y2="271.7" stroke="#8c8c8c" stroke-width="1.1"/>
<rect x="737.53" y="263.0" width="2.6" height="1" fill="#333"/>
<line x1="742.90" y1="251.6" x2="742.90" y2="264.3" stroke="#8c8c8c" stroke-width="1.1"/>
<rect x="741.80" y="258.4" width="2.2" height="5.2" fill="#006000" stroke="#003000" stroke-width="0.3"/>
<line x1="746.98" y1="258.9" x2="746.98" y2="273.8" stroke="#8c8c8c" stroke-width="1.1"/>
<rect x="745.88" y="259.6" width="2.2" height="13.5" fill="#e80000" stroke="#900000" stroke-width="0.3"/>
<line x1="751.05" y1="250.4" x2="751.05" y2="274.9" stroke="#8c8c8c" stroke-width="1.1"/>
<rect x="749.95" y="253.3" width="2.2" height="21.2" fill="#006000" stroke="#003000" stroke-width="0.3"/>
<line x1="755.12" y1="248.3" x2="755.12" y2="258.2" stroke="#8c8c8c" stroke-width="1.1"/>
<rect x="754.02" y="250.9" width="2.2" height="3.1" fill="#006000" stroke="#003000" stroke-width="0.3"/>
<line x1="759.19" y1="245.5" x2="759.19" y2="255.4" stroke="#8c8c8c" stroke-width="1.1"/>
<rect x="758.09" y="251.4" width="2.2" height="2.3" fill="#e80000" stroke="#900000" stroke-width="0.3"/>
<line x1="763.26" y1="241.9" x2="763.26" y2="254.7" stroke="#8c8c8c" stroke-width="1.1"/>
<rect x="762.16" y="244.1" width="2.2" height="9.2" fill="#006000" stroke="#003000" stroke-width="0.3"/>
<line x1="767.34" y1="232.7" x2="767.34" y2="250.4" stroke="#8c8c8c" stroke-width="1.1"/>
<rect x="766.24" y="235.6" width="2.2" height="9.2" fill="#006000" stroke="#003000" stroke-width="0.3"/>
<line x1="771.41" y1="233.5" x2="771.41" y2="254.7" stroke="#8c8c8c" stroke-width="1.1"/>
<rect x="770.31" y="233.9" width="2.2" height="20.4" fill="#e80000" stroke="#900000" stroke-width="0.3"/>
<line x1="775.48" y1="243.4" x2="775.48" y2="263.2" stroke="#8c8c8c" stroke-width="1.1"/>
<rect x="774.18" y="253.8" width="2.6" height="1" fill="#333"/>
<line x1="779.55" y1="254.0" x2="779.55" y2="261.8" stroke="#8c8c8c" stroke-width="1.1"/>
<rect x="778.45" y="255.7" width="2.2" height="1.8" fill="#e80000" stroke="#900000" stroke-width="0.3"/>
<line x1="783.62" y1="251.9" x2="783.62" y2="261.8" stroke="#8c8c8c" stroke-width="1.1"/>
<rect x="782.52" y="255.1" width="2.2" height="2.8" fill="#006000" stroke="#003000" stroke-width="0.3"/>
<line x1="787.70" y1="249.4" x2="787.70" y2="262.0" stroke="#8c8c8c" stroke-width="1.1"/>
<rect x="786.60" y="256.2" width="2.2" height="3.0" fill="#e80000" stroke="#900000" stroke-width="0.3"/>
<line x1="791.77" y1="254.0" x2="791.77" y2="266.8" stroke="#8c8c8c" stroke-width="1.1"/>
<rect x="790.67" y="262.2" width="2.2" height="1.8" fill="#006000" stroke="#003000" stroke-width="0.3"/>
<line x1="795.84" y1="244.8" x2="795.84" y2="264.7" stroke="#8c8c8c" stroke-width="1.1"/>
<rect x="794.74" y="247.0" width="2.2" height="14.8" fill="#006000" stroke="#003000" stroke-width="0.3"/>
<line x1="799.91" y1="242.0" x2="799.91" y2="260.1" stroke="#8c8c8c" stroke-width="1.1"/>
<rect x="798.81" y="247.7" width="2.2" height="10.6" fill="#e80000" stroke="#900000" stroke-width="0.3"/>
<line x1="803.98" y1="257.6" x2="803.98" y2="260.4" stroke="#8c8c8c" stroke-width="1.1"/>
<rect x="802.68" y="258.6" width="2.6" height="1" fill="#333"/>
<line x1="2" y1="125.2" x2="168.3" y2="71.0" stroke="#1010d8" stroke-width="1.3" stroke-linecap="round"/>
<line x1="0" y1="188.4" x2="185.1" y2="128.7" stroke="#1010d8" stroke-width="1.3" stroke-linecap="round"/>
<line x1="116.3" y1="94.4" x2="241.8" y2="185.3" stroke="#1010d8" stroke-width="1.3" stroke-linecap="round"/>
<line x1="95.5" y1="119.2" x2="221.7" y2="210.4" stroke="#1010d8" stroke-width="1.3" stroke-linecap="round"/>
<line x1="270.6" y1="220.3" x2="372.6" y2="120.6" stroke="#000" stroke-width="1.5" stroke-linecap="round"/>
<line x1="360" y1="121.6" x2="482.2" y2="200.5" stroke="#000" stroke-width="1.5" stroke-linecap="round"/>
<line x1="506.3" y1="181.2" x2="539.2" y2="202" stroke="#000" stroke-width="1.5" stroke-linecap="round"/>
<line x1="523" y1="193" x2="563.4" y2="289.3" stroke="#000" stroke-width="1.5" stroke-linecap="round"/>
<line x1="632.3" y1="174.6" x2="726.5" y2="280" stroke="#000" stroke-width="1.5" stroke-linecap="round"/>
</g>
<text transform="translate(952.4,133.8) scale(0.962,1)" x="0" y="0" font-size="14.4" fill="#ff0000" text-anchor="end">R3 - 82.10</text>
<text transform="translate(952.4,170.4) scale(0.962,1)" x="0" y="0" font-size="14.4" fill="#ff0000" text-anchor="end">R2 - 77.85</text>
<text transform="translate(952.4,220.6) scale(0.962,1)" x="0" y="0" font-size="14.4" fill="#ff0000" text-anchor="end">R1 - 72.20</text>
<text transform="translate(952.4,285.2) scale(0.962,1)" x="0" y="0" font-size="14.4" fill="#0b700b" text-anchor="end">S1 - 66.80</text>
<text transform="translate(952.4,329.9) scale(0.962,1)" x="0" y="0" font-size="14.4" fill="#0b700b" text-anchor="end">S2 - 61.65</text>
<text transform="translate(952.4,368.7) scale(0.962,1)" x="0" y="0" font-size="14.4" fill="#0b700b" text-anchor="end">S3 - 57.25</text>
<g clip-path="url(#cr)">
<line x1="2" y1="398.2" x2="954" y2="398.2" stroke="#c8c8c8" stroke-width="1" stroke-dasharray="1.2 1.8" stroke-dashoffset="1.1"/>
<line x1="2" y1="410.4" x2="954" y2="410.4" stroke="#c8c8c8" stroke-width="1" stroke-dasharray="1.2 1.8" stroke-dashoffset="1.1"/>
<line x1="2" y1="422.6" x2="954" y2="422.6" stroke="#c8c8c8" stroke-width="1" stroke-dasharray="1.2 1.8" stroke-dashoffset="1.1"/>
<polyline points="1.6,406.1 5.7,408.1 9.0,406.4 12.8,405.6 18.0,410.0 22.2,408.5 26.3,409.4 30.4,405.9 34.5,403.1 38.6,402.6 42.7,399.8 45.9,399.0 50.9,403.1 55.0,405.3 58.3,405.3 62.4,402.8 67.3,405.6 70.6,404.4 75.5,401.8 80.4,399.5 83.7,397.4 87.0,396.9 91.9,395.4 95.2,396.2 99.3,397.1 103.4,402.0 107.5,400.3 111.6,402.3 115.7,403.1 119.0,402.3 123.1,404.0 128.0,411.8 132.1,413.3 136.2,413.0 140.3,413.0 144.4,408.9 148.5,410.8 152.6,408.4 156.7,408.5 160.0,411.0 164.1,414.6 168.2,420.0 172.3,420.4 176.4,422.3 180.5,420.4 184.6,420.7 188.7,417.6 192.8,416.3 196.9,419.2 201.0,416.3 205.1,418.2 209.2,416.7 213.3,414.6 217.4,412.6 221.5,413.8 225.6,416.6 229.7,419.0 233.0,419.5 237.1,416.6 242.0,413.0 246.1,408.4 250.3,411.3 254.4,414.9 258.5,416.6 262.6,422.0 266.7,423.6 270.8,419.5 274.9,415.9 278.1,416.3 283.1,410.5 287.2,410.5 291.3,410.0 295.4,411.0 299.5,410.0 303.6,405.9 307.7,404.3 311.8,404.8 315.1,403.5 320.0,405.6 323.3,403.5 327.4,406.4 331.5,406.4 335.6,404.4 339.7,405.3 343.8,401.8 347.9,402.3 352.0,401.5 355.3,400.7 359.4,403.1 364.3,407.2 368.4,408.5 372.5,407.2 376.6,407.2 380.7,409.2 384.0,410.0 388.6,413.8 392.5,408.4 396.3,410.5 400.4,415.9 404.5,417.1 409.4,419.2 412.7,419.2 416.8,415.9 420.9,419.9 425.0,420.9 429.1,422.0 433.2,412.2 437.3,415.4 441.4,419.5 445.5,420.4 449.6,421.5 453.7,416.3 457.8,414.9 461.9,413.0 466.0,408.9 470.1,410.5 474.2,412.6 477.5,410.8 480.0,411.8 484.1,414.6 488.2,417.1 493.9,419.2 498.0,417.1 502.2,413.0 506.3,408.9 510.4,411.3 514.5,413.8 518.6,410.8 522.7,414.6 526.8,413.8 530.9,418.7 535.0,420.0 538.3,419.2 543.2,421.2 547.3,420.0 551.4,422.5 555.5,420.0 559.6,416.7 563.7,416.6 567.8,414.6 571.9,413.8 576.0,414.9 580.1,410.5 584.2,410.8 588.3,412.2 591.6,410.5 595.7,413.5 600.6,417.4 604.7,414.9 608.8,415.4 612.9,410.5 616.2,410.5 621.1,405.6 625.2,403.9 628.5,401.5 632.6,406.7 636.7,408.4 640.0,406.4 644.1,405.6 649.0,411.3 653.1,413.0 657.2,413.5 661.3,413.5 665.4,415.4 669.5,413.3 673.6,410.8 677.7,411.3 681.0,412.5 685.1,410.0 690.0,415.8 693.3,416.7 697.4,413.8 701.5,411.3 705.6,413.0 709.7,409.7 713.0,408.5 717.9,408.5 722.0,408.4 726.1,412.2 730.3,415.4 734.4,415.4 738.5,415.4 742.6,414.6 746.7,416.7 750.8,412.2 754.9,411.0 759.0,412.2 763.1,409.7 766.7,407.7 771.3,412.5 775.4,412.5 779.5,413.3 782.7,412.3 785.8,413.1 788.5,413.7 791.4,414.6 795.4,409.8 798.6,412.3 800.7,413.4 803.6,413.3" fill="none" stroke="#6a6a6a" stroke-width="1.05" stroke-linejoin="round" stroke-linecap="round"/>
</g>
<rect x="1" y="0.9" width="954" height="1" fill="#666"/>
<rect x="1" y="0.9" width="1.2" height="441" fill="#666"/>
<rect x="954" y="0.9" width="1.5" height="441" fill="#9a9a9a"/>
<rect x="1" y="377.9" width="954.5" height="1.8" fill="#6a6a6a"/>
<rect x="1" y="441" width="954.5" height="1.1" fill="#555"/>
<line x1="1.8" y1="158" x2="1.8" y2="172" stroke="#8c8c8c" stroke-width="1.1"/>
<rect x="1.0" y="160.4" width="1.6" height="11" fill="#e00000" stroke="#900000" stroke-width="0.3"/>
<path d="M3.2,4.3 L6.7,4.3 L4.95,6.5 Z" fill="#000"/>
<text x="9" y="7.4" font-size="4.85" fill="#111" stroke="#111" stroke-width="0.1">WTICash,Daily</text>
<text x="44.9" y="7.4" font-size="4.85" fill="#111" stroke="#111" stroke-width="0.1">68.44 68.58 68.22 68.34</text>
<text x="3.7" y="385.8" font-size="4.8" fill="#111" stroke="#111" stroke-width="0.1">RSI(14) 46.0912</text>
<rect x="955.3" y="7.0" width="1.2" height="1" fill="#444"/>
<text x="958" y="9.8" font-size="4.8" fill="#111" stroke="#111" stroke-width="0.1">96.90</text>
<rect x="955.3" y="23.7" width="1.2" height="1" fill="#444"/>
<text x="958" y="26.5" font-size="4.8" fill="#111" stroke="#111" stroke-width="0.1">95.00</text>
<rect x="955.3" y="40.5" width="1.2" height="1" fill="#444"/>
<text x="958" y="43.3" font-size="4.8" fill="#111" stroke="#111" stroke-width="0.1">93.10</text>
<rect x="955.3" y="57.3" width="1.2" height="1" fill="#444"/>
<text x="958" y="60.1" font-size="4.8" fill="#111" stroke="#111" stroke-width="0.1">91.20</text>
<rect x="955.3" y="74.0" width="1.2" height="1" fill="#444"/>
<text x="958" y="76.8" font-size="4.8" fill="#111" stroke="#111" stroke-width="0.1">89.30</text>
<rect x="955.3" y="90.8" width="1.2" height="1" fill="#444"/>
<text x="958" y="93.6" font-size="4.8" fill="#111" stroke="#111" stroke-width="0.1">87.40</text>
<rect x="955.3" y="107.5" width="1.2" height="1" fill="#444"/>
<text x="958" y="110.3" font-size="4.8" fill="#111" stroke="#111" stroke-width="0.1">85.50</text>
<rect x="955.3" y="124.7" width="1.2" height="1" fill="#444"/>
<text x="958" y="127.5" font-size="4.8" fill="#111" stroke="#111" stroke-width="0.1">83.55</text>
<rect x="955.3" y="141.5" width="1.2" height="1" fill="#444"/>
<text x="958" y="144.3" font-size="4.8" fill="#111" stroke="#111" stroke-width="0.1">81.65</text>
<rect x="955.3" y="158.2" width="1.2" height="1" fill="#444"/>
<text x="958" y="161.0" font-size="4.8" fill="#111" stroke="#111" stroke-width="0.1">79.75</text>
<rect x="955.3" y="191.8" width="1.2" height="1" fill="#444"/>
<text x="958" y="194.6" font-size="4.8" fill="#111" stroke="#111" stroke-width="0.1">75.95</text>
<rect x="955.3" y="208.5" width="1.2" height="1" fill="#444"/>
<text x="958" y="211.3" font-size="4.8" fill="#111" stroke="#111" stroke-width="0.1">74.05</text>
<rect x="955.3" y="242.0" width="1.2" height="1" fill="#444"/>
<text x="958" y="244.8" font-size="4.8" fill="#111" stroke="#111" stroke-width="0.1">70.25</text>
<rect x="955.3" y="275.6" width="1.2" height="1" fill="#444"/>
<text x="958" y="278.4" font-size="4.8" fill="#111" stroke="#111" stroke-width="0.1">66.45</text>
<rect x="955.3" y="292.3" width="1.2" height="1" fill="#444"/>
<text x="958" y="295.1" font-size="4.8" fill="#111" stroke="#111" stroke-width="0.1">64.55</text>
<rect x="955.3" y="309.1" width="1.2" height="1" fill="#444"/>
<text x="958" y="311.9" font-size="4.8" fill="#111" stroke="#111" stroke-width="0.1">62.65</text>
<rect x="955.3" y="325.8" width="1.2" height="1" fill="#444"/>
<text x="958" y="328.6" font-size="4.8" fill="#111" stroke="#111" stroke-width="0.1">60.75</text>
<rect x="955.3" y="342.6" width="1.2" height="1" fill="#444"/>
<text x="958" y="345.4" font-size="4.8" fill="#111" stroke="#111" stroke-width="0.1">58.85</text>
<rect x="955.3" y="359.3" width="1.2" height="1" fill="#444"/>
<text x="958" y="362.1" font-size="4.8" fill="#111" stroke="#111" stroke-width="0.1">56.95</text>
<rect x="955.3" y="376.1" width="1.2" height="1" fill="#444"/>
<text x="958" y="378.9" font-size="4.8" fill="#111" stroke="#111" stroke-width="0.1">55.05</text>
<text x="957" y="385.2" font-size="4.8" fill="#111" stroke="#111" stroke-width="0.1">100</text>
<rect x="955.3" y="397.7" width="1.2" height="1" fill="#444"/>
<text x="957" y="400.0" font-size="4.8" fill="#111" stroke="#111" stroke-width="0.1">70</text>
<rect x="955.3" y="409.9" width="1.2" height="1" fill="#444"/>
<text x="957" y="412.2" font-size="4.8" fill="#111" stroke="#111" stroke-width="0.1">50</text>
<rect x="955.3" y="422.1" width="1.2" height="1" fill="#444"/>
<text x="957" y="424.4" font-size="4.8" fill="#111" stroke="#111" stroke-width="0.1">30</text>
<text x="957" y="440.0" font-size="4.8" fill="#111" stroke="#111" stroke-width="0.1">0</text>
<rect x="955.4" y="91.8" width="15.8" height="4.8" fill="#ff0000"/>
<text x="963.3" y="95.9" font-size="4.6" fill="#fff" text-anchor="middle">87.00</text>
<rect x="955.4" y="135.0" width="15.8" height="4.8" fill="#ff0000"/>
<text x="963.3" y="139.1" font-size="4.6" fill="#fff" text-anchor="middle">82.10</text>
<rect x="955.4" y="172.5" width="15.8" height="4.8" fill="#ff0000"/>
<text x="963.3" y="176.6" font-size="4.6" fill="#fff" text-anchor="middle">77.85</text>
<rect x="955.4" y="222.3" width="15.8" height="4.8" fill="#ff0000"/>
<text x="963.3" y="226.4" font-size="4.6" fill="#fff" text-anchor="middle">72.20</text>
<rect x="955.4" y="257.0" width="15.8" height="4.8" fill="#000000"/>
<text x="963.3" y="261.1" font-size="4.6" fill="#fff" text-anchor="middle">68.34</text>
<rect x="955.4" y="270.0" width="15.8" height="4.8" fill="#0b700b"/>
<text x="963.3" y="274.1" font-size="4.6" fill="#fff" text-anchor="middle">66.80</text>
<rect x="955.4" y="315.4" width="15.8" height="4.8" fill="#0b700b"/>
<text x="963.3" y="319.5" font-size="4.6" fill="#fff" text-anchor="middle">61.65</text>
<rect x="955.4" y="354.2" width="15.8" height="4.8" fill="#0b700b"/>
<text x="963.3" y="358.3" font-size="4.6" fill="#fff" text-anchor="middle">57.25</text>
<rect x="1.0" y="441" width="1" height="1.8" fill="#444"/>
<text x="1.0" y="447.9" font-size="4.7" fill="#111" stroke="#111" stroke-width="0.1">4 Mar 2024</text>
<rect x="33.6" y="441" width="1" height="1.8" fill="#444"/>
<text x="33.6" y="447.9" font-size="4.7" fill="#111" stroke="#111" stroke-width="0.1">14 Mar 2024</text>
<rect x="66.2" y="441" width="1" height="1.8" fill="#444"/>
<text x="66.2" y="447.9" font-size="4.7" fill="#111" stroke="#111" stroke-width="0.1">26 Mar 2024</text>
<rect x="98.7" y="441" width="1" height="1.8" fill="#444"/>
<text x="98.7" y="447.9" font-size="4.7" fill="#111" stroke="#111" stroke-width="0.1">8 Apr 2024</text>
<rect x="131.3" y="441" width="1" height="1.8" fill="#444"/>
<text x="131.3" y="447.9" font-size="4.7" fill="#111" stroke="#111" stroke-width="0.1">18 Apr 2024</text>
<rect x="163.9" y="441" width="1" height="1.8" fill="#444"/>
<text x="163.9" y="447.9" font-size="4.7" fill="#111" stroke="#111" stroke-width="0.1">30 Apr 2024</text>
<rect x="196.5" y="441" width="1" height="1.8" fill="#444"/>
<text x="196.5" y="447.9" font-size="4.7" fill="#111" stroke="#111" stroke-width="0.1">10 May 2024</text>
<rect x="229.0" y="441" width="1" height="1.8" fill="#444"/>
<text x="229.0" y="447.9" font-size="4.7" fill="#111" stroke="#111" stroke-width="0.1">22 May 2024</text>
<rect x="261.6" y="441" width="1" height="1.8" fill="#444"/>
<text x="261.6" y="447.9" font-size="4.7" fill="#111" stroke="#111" stroke-width="0.1">3 Jun 2024</text>
<rect x="294.2" y="441" width="1" height="1.8" fill="#444"/>
<text x="294.2" y="447.9" font-size="4.7" fill="#111" stroke="#111" stroke-width="0.1">13 Jun 2024</text>
<rect x="326.8" y="441" width="1" height="1.8" fill="#444"/>
<text x="326.8" y="447.9" font-size="4.7" fill="#111" stroke="#111" stroke-width="0.1">25 Jun 2024</text>
<rect x="359.3" y="441" width="1" height="1.8" fill="#444"/>
<text x="359.3" y="447.9" font-size="4.7" fill="#111" stroke="#111" stroke-width="0.1">5 Jul 2024</text>
<rect x="391.9" y="441" width="1" height="1.8" fill="#444"/>
<text x="391.9" y="447.9" font-size="4.7" fill="#111" stroke="#111" stroke-width="0.1">17 Jul 2024</text>
<rect x="424.5" y="441" width="1" height="1.8" fill="#444"/>
<text x="424.5" y="447.9" font-size="4.7" fill="#111" stroke="#111" stroke-width="0.1">29 Jul 2024</text>
<rect x="457.1" y="441" width="1" height="1.8" fill="#444"/>
<text x="457.1" y="447.9" font-size="4.7" fill="#111" stroke="#111" stroke-width="0.1">8 Aug 2024</text>
<rect x="489.6" y="441" width="1" height="1.8" fill="#444"/>
<text x="489.6" y="447.9" font-size="4.7" fill="#111" stroke="#111" stroke-width="0.1">20 Aug 2024</text>
<rect x="522.2" y="441" width="1" height="1.8" fill="#444"/>
<text x="522.2" y="447.9" font-size="4.7" fill="#111" stroke="#111" stroke-width="0.1">30 Aug 2024</text>
<rect x="554.8" y="441" width="1" height="1.8" fill="#444"/>
<text x="554.8" y="447.9" font-size="4.7" fill="#111" stroke="#111" stroke-width="0.1">11 Sep 2024</text>
<rect x="587.4" y="441" width="1" height="1.8" fill="#444"/>
<text x="587.4" y="447.9" font-size="4.7" fill="#111" stroke="#111" stroke-width="0.1">23 Sep 2024</text>
<rect x="619.9" y="441" width="1" height="1.8" fill="#444"/>
<text x="619.9" y="447.9" font-size="4.7" fill="#111" stroke="#111" stroke-width="0.1">3 Oct 2024</text>
<rect x="652.5" y="441" width="1" height="1.8" fill="#444"/>
<text x="652.5" y="447.9" font-size="4.7" fill="#111" stroke="#111" stroke-width="0.1">15 Oct 2024</text>
<rect x="685.1" y="441" width="1" height="1.8" fill="#444"/>
<text x="685.1" y="447.9" font-size="4.7" fill="#111" stroke="#111" stroke-width="0.1">25 Oct 2024</text>
<rect x="717.7" y="441" width="1" height="1.8" fill="#444"/>
<text x="717.7" y="447.9" font-size="4.7" fill="#111" stroke="#111" stroke-width="0.1">6 Nov 2024</text>
<rect x="750.2" y="441" width="1" height="1.8" fill="#444"/>
<text x="750.2" y="447.9" font-size="4.7" fill="#111" stroke="#111" stroke-width="0.1">18 Nov 2024</text>
<rect x="782.8" y="441" width="1" height="1.8" fill="#444"/>
<text x="782.8" y="447.9" font-size="4.7" fill="#111" stroke="#111" stroke-width="0.1">28 Nov 2024</text>
</svg></body></html>
